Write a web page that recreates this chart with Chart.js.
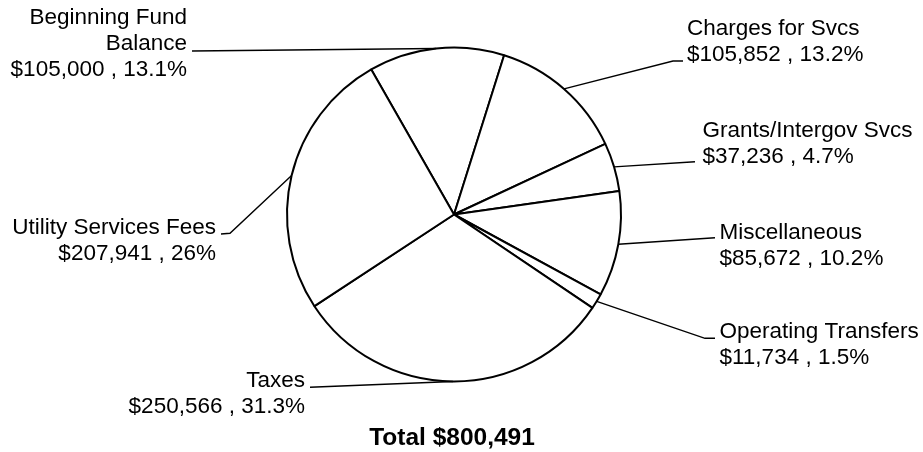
<!DOCTYPE html>
<html>
<head>
<meta charset="utf-8">
<script src="https://cdn.jsdelivr.net/npm/chart.js@4/dist/chart.umd.min.js"></script>
<style>
  body { margin: 0; background: #fff; }
  #wrap { width: 923px; height: 452px; }
</style>
</head>
<body>
<div id="wrap"><canvas id="revenuePie" width="923" height="452"></canvas></div>
<script>
// Chart data
const categories = ['Beginning Fund Balance', 'Charges for Svcs', 'Grants/Intergov Svcs',
    'Miscellaneous', 'Operating Transfers', 'Taxes', 'Utility Services Fees'];
const nameLines = [['Beginning Fund', 'Balance'], ['Charges for Svcs'], ['Grants/Intergov Svcs'],
    ['Miscellaneous'], ['Operating Transfers'], ['Taxes'], ['Utility Services Fees']];
const amounts = [105000, 105852, 37236, 85672, 11734, 250566, 207941];
const percents = [13.1, 13.2, 4.7, 10.2, 1.5, 31.3, 26];
const totalLabel = 'Total $800,491';

// Label placement, relative to the pie centre
// end = where the leader line stops, elbow = optional bend point
const labelLayout = [
    { elbow: null,        end: [-262, -163.5], side: 'left',  gap: 5,   attach: 1, dy: -1 },
    { elbow: [219, -153.5], end: [229, -153.5], side: 'right', gap: 4,   attach: 1, dy: 0 },
    { elbow: null,        end: [241, -52.8],   side: 'right', gap: 7.5, attach: 1, dy: 1 },
    { elbow: null,        end: [261, 23.2],    side: 'right', gap: 4.5, attach: 0, dy: 1.5 },
    { elbow: [251, 123.8], end: [261, 123.8],  side: 'right', gap: 4.5, attach: 0, dy: 0 },
    { elbow: null,        end: [-144, 172.8],  side: 'left',  gap: 5,   attach: 0, dy: 0 },
    { elbow: [-224, 18.8], end: [-233, 19.5],  side: 'left',  gap: 5,   attach: 0, dy: 0 }
];

function labelText(i) {
    const value = '$' + amounts[i].toLocaleString('en-US') + ' , ' + percents[i] + '%';
    return nameLines[i].concat([value]);
}

const leaderLabels = {
    id: 'leaderLabels',
    afterDatasetsDraw(chart) {
        const ctx = chart.ctx;
        const arcs = chart.getDatasetMeta(0).data;
        ctx.save();
        ctx.strokeStyle = '#000';
        ctx.fillStyle = '#000';
        ctx.lineWidth = 1.4;
        ctx.font = '22.5px "Liberation Sans", Arial, sans-serif';
        ctx.textBaseline = 'alphabetic';

        arcs.forEach((arc, i) => {
            const p = arc.getProps(['x', 'y', 'startAngle', 'endAngle', 'outerRadius'], true);
            const mid = (p.startAngle + p.endAngle) / 2;
            const sx = p.x + Math.cos(mid) * p.outerRadius;
            const sy = p.y + Math.sin(mid) * p.outerRadius;
            const lay = labelLayout[i];

            ctx.beginPath();
            ctx.moveTo(sx, sy);
            if (lay.elbow) {
                ctx.lineTo(p.x + lay.elbow[0], p.y + lay.elbow[1]);
            }
            const ex = p.x + lay.end[0];
            const ey = p.y + lay.end[1];
            ctx.lineTo(ex, ey);
            ctx.stroke();

            const lines = labelText(i);
            const lineHeight = 26;
            ctx.textAlign = lay.side === 'left' ? 'right' : 'left';
            const tx = lay.side === 'left' ? ex - lay.gap : ex + lay.gap;
            lines.forEach((line, k) => {
                ctx.fillText(line, tx, ey + lay.dy + (k - lay.attach) * lineHeight);
            });
        });

        // total under the pie
        ctx.font = 'bold 24.5px "Liberation Sans", Arial, sans-serif';
        ctx.textAlign = 'center';
        ctx.fillText(totalLabel, 452, 445);
        ctx.restore();
    }
};

new Chart(document.getElementById('revenuePie'), {
    type: 'pie',
    data: {
        labels: categories,
        datasets: [{
            data: percents,
            backgroundColor: '#fff',
            borderColor: '#000',
            borderWidth: 2,
            hoverOffset: 0
        }]
    },
    options: {
        responsive: false,
        devicePixelRatio: 1,
        animation: false,
        rotation: -29.7,
        layout: {
            padding: { top: 46.5, bottom: 69.5, left: 154, right: 169 }
        },
        plugins: {
            legend: { display: false },
            tooltip: { enabled: false },
            title: { display: false }
        }
    },
    plugins: [leaderLabels]
});
</script>
</body>
</html>
